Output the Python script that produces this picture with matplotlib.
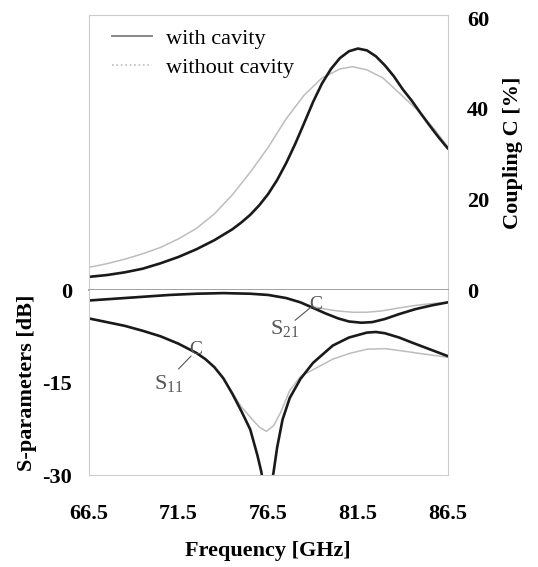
import numpy as np
import matplotlib
matplotlib.use("Agg")
import matplotlib.pyplot as plt
from matplotlib.lines import Line2D

plt.rcParams['font.family'] = ['Liberation Serif', 'DejaVu Serif']
plt.rcParams['mathtext.fontset'] = 'custom'
plt.rcParams['mathtext.rm'] = 'Liberation Serif'
plt.rcParams['mathtext.it'] = 'Liberation Serif'
plt.rcParams['axes.unicode_minus'] = False

# coupling C [%]
f_c_cav = [66.5, 67.5, 68.5, 69.5, 70.5, 71.5, 72.5, 73.5, 74.5, 75.0, 75.5, 76.0, 76.5,
           77.0, 77.5, 78.0, 78.5, 79.0, 79.5, 80.0, 80.5, 81.0, 81.5, 82.0, 82.5, 83.0,
           83.5, 84.0, 84.5, 85.0, 85.5, 86.0, 86.5]
c_cav = [2.9, 3.3, 3.9, 4.7, 5.9, 7.3, 9.0, 11.0, 13.4, 14.9, 16.6, 18.7, 21.2,
         24.3, 28.0, 32.2, 36.8, 41.5, 45.6, 48.8, 51.2, 52.7, 53.3, 52.9, 51.6, 49.6,
         47.2, 44.3, 41.8, 39.0, 36.3, 33.7, 31.3]
f_c_nocav = [66.5, 67.5, 68.5, 69.5, 70.5, 71.5, 72.5, 73.5, 74.5, 75.5, 76.5, 77.5,
             78.5, 79.5, 80.5, 81.2, 82.0, 82.9, 83.8, 84.8, 85.7, 86.5]
c_nocav = [5.0, 5.8, 6.8, 8.0, 9.4, 11.3, 13.6, 16.8, 21.0, 26.0, 31.5, 37.8,
           43.0, 46.8, 48.8, 49.3, 48.6, 46.8, 43.5, 39.8, 35.8, 31.7]

# S11 [dB]
f_s11_cav = [66.5, 67.5, 68.5, 69.5, 70.5, 71.5, 72.5, 73.0, 73.5, 74.0, 74.5, 75.0, 75.5,
             75.9, 76.12, 76.3, 76.45, 76.6, 76.8, 77.0, 77.3, 77.7, 78.3, 79.0, 80.1,
             81.0, 82.0, 82.5, 83.0, 83.8, 84.5, 85.5, 86.5]
s11_cav = [-4.6, -5.2, -5.8, -6.6, -7.5, -8.7, -10.2, -11.2, -12.5, -14.3, -16.8, -19.6, -22.6,
           -26.8, -29.5, -33.0, -40.0, -33.0, -29.5, -25.5, -21.0, -17.5, -14.4, -11.8, -9.0,
           -7.7, -6.9, -6.8, -7.0, -7.7, -8.5, -9.6, -10.7]
f_s11_nocav = [66.5, 67.5, 68.5, 69.5, 70.5, 71.5, 72.5, 73.0, 73.5, 74.0, 74.5, 75.0, 75.5,
               76.0, 76.4, 76.8, 77.2, 77.7, 78.3, 79.2, 80.1, 81.0, 82.0, 83.0, 83.8, 85.0, 86.5]
s11_nocav = [-4.6, -5.2, -5.8, -6.6, -7.5, -8.7, -10.2, -11.2, -12.5, -14.3, -16.6, -18.9, -20.6,
             -22.2, -22.9, -22.0, -19.8, -16.3, -14.0, -12.6, -11.2, -10.3, -9.6, -9.5, -9.8, -10.3, -10.9]

# S21 [dB]
f_s21_cav = [66.5, 68.0, 69.5, 71.0, 72.5, 74.0, 75.5, 76.5, 77.5, 78.3, 79.0, 79.7, 80.4,
             81.0, 81.7, 82.3, 83.0, 83.8, 84.7, 85.6, 86.5]
s21_cav = [-1.7, -1.4, -1.1, -0.8, -0.6, -0.5, -0.6, -0.8, -1.3, -2.0, -2.9, -3.8, -4.6,
           -5.1, -5.3, -5.2, -4.7, -3.9, -3.1, -2.5, -2.0]
f_s21_nocav = [66.5, 68.0, 69.5, 71.0, 72.5, 74.0, 75.5, 76.5, 77.5, 78.3, 79.0, 79.7, 80.4,
               81.2, 82.0, 82.8, 83.8, 84.7, 85.6, 86.5]
s21_nocav = [-1.7, -1.4, -1.1, -0.8, -0.6, -0.5, -0.6, -0.8, -1.3, -2.0, -2.7, -3.1, -3.4,
             -3.6, -3.6, -3.4, -2.9, -2.5, -2.2, -2.0]

xticks = [66.5, 71.5, 76.5, 81.5, 86.5]

black = '#1a1a1a'
gray = '#bdbdbd'
frame = '#cccccc'

fig = plt.figure(figsize=(5.38, 5.67), dpi=100)
ax1 = fig.add_axes([0.165, 0.4885, 0.667, 0.485])
ax2 = fig.add_axes([0.165, 0.162, 0.667, 0.3265])

# top: coupling
ax1.plot(f_c_nocav, c_nocav, color=gray, lw=1.1)
ax1.plot(f_c_cav, c_cav, color=black, lw=1.9)
ax1.set_xlim(66.5, 86.5)
ax1.set_ylim(0, 60.7)
ax1.set_xticks(xticks)
ax1.tick_params(axis='x', length=0, labelbottom=False)
ax1.yaxis.tick_right()
ax1.set_yticks([0, 20, 40, 60])
ax1.tick_params(axis='y', length=0, pad=14, labelsize=16)
for lab in ax1.get_yticklabels():
    lab.set_fontweight('bold')
ax1.yaxis.set_label_position('right')
ax1.set_ylabel('Coupling C [%]', fontsize=16, fontweight='bold', labelpad=10)
for s in ax1.spines.values():
    s.set_color(frame)
ax1.spines['bottom'].set_color('#999999')
ax1.spines['bottom'].set_linewidth(1.3)

handles = [Line2D([], [], color='#888888', lw=1.4),
           Line2D([], [], color=gray, lw=1.2, ls=':')]
ax1.legend(handles, ['with cavity', 'without cavity'], loc='upper left',
           bbox_to_anchor=(0.01, 1.025), frameon=False, fontsize=16,
           handlelength=1.8, handletextpad=0.6, labelspacing=0.4)

# bottom: S-parameters
ax2.plot(f_s21_nocav, s21_nocav, color=gray, lw=1.1)
ax2.plot(f_s11_nocav, s11_nocav, color=gray, lw=1.1)
ax2.plot(f_s21_cav, s21_cav, color=black, lw=1.9)
ax2.plot(f_s11_cav, s11_cav, color=black, lw=1.9)
ax2.set_xlim(66.5, 86.5)
ax2.set_ylim(-30, 0)
ax2.set_xticks(xticks)
ax2.set_xticklabels([str(x) for x in xticks])
ax2.set_yticks([0, -15, -30])
ax2.tick_params(axis='x', length=0, pad=21, labelsize=16)
ax2.tick_params(axis='y', length=0, pad=12, labelsize=16)
for lab in ax2.get_xticklabels() + ax2.get_yticklabels():
    lab.set_fontweight('bold')
ax2.set_xlabel('Frequency [GHz]', fontsize=16, fontweight='bold', labelpad=12)
ax2.set_ylabel('S-parameters [dB]', fontsize=16, fontweight='bold', labelpad=4)
for s in ax2.spines.values():
    s.set_color(frame)
ax2.spines['top'].set_visible(False)

# curve labels with leader lines and brackets
ann = '#555555'
ax2.text(77.4, -6.3, r'S$_{\mathrm{21}}$', fontsize=16, color=ann, ha='center', va='center')
ax2.annotate('', xy=(78.9, -2.75), xytext=(78.0, -4.9),
             arrowprops=dict(arrowstyle='-', color=ann, lw=0.8, shrinkA=0, shrinkB=0))
ax2.text(79.15, -2.4, 'C', fontsize=14, color=ann, ha='center', va='center')
ax2.text(70.95, -15.2, r'S$_{\mathrm{11}}$', fontsize=16, color=ann, ha='center', va='center')
ax2.annotate('', xy=(72.2, -10.7), xytext=(71.5, -12.8),
             arrowprops=dict(arrowstyle='-', color=ann, lw=0.8, shrinkA=0, shrinkB=0))
ax2.text(72.45, -9.6, 'C', fontsize=14, color=ann, ha='center', va='center')

fig.savefig('out.png', dpi=100)
